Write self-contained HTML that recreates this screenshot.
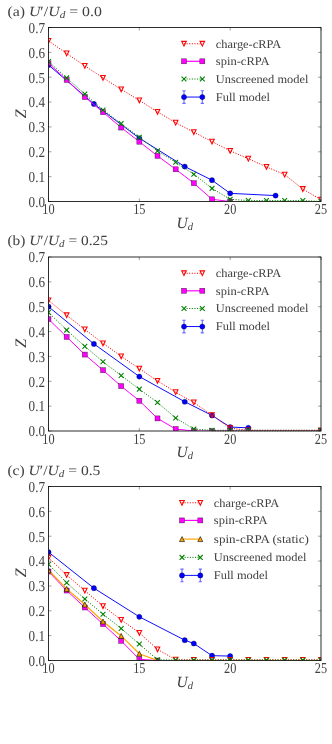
<!DOCTYPE html>
<html><head><meta charset="utf-8"><title>Z vs U_d</title>
<style>
html,body{margin:0;padding:0;background:#fff;}
svg{display:block;will-change:transform;}
text{font-family:"Liberation Serif",serif;fill:#404040;text-rendering:geometricPrecision;}
.tk{font-size:15.2px;}
.lg{font-size:11.8px;}
.ax{font-size:16px;font-style:italic;}
.tt{font-size:14px;}
</style></head><body>

<svg width="332" height="744" viewBox="0 0 332 744">
<rect width="332" height="744" fill="#fff"/>
<g transform="translate(0,27.50)">
<clipPath id="c0"><rect x="48.50" y="0" width="272.50" height="174.00"/></clipPath>
<text class="tt" x="7.4" y="-11.8" textLength="94.5" lengthAdjust="spacingAndGlyphs">(a) <tspan font-style="italic">U</tspan>′/<tspan font-style="italic">U</tspan><tspan font-style="italic" style="font-size:10px" dy="2.2">d</tspan><tspan dy="-2.2"> = 0.0</tspan></text>
<g clip-path="url(#c0)">
<polyline points="48.50,37.49 93.92,76.47 139.33,110.74 184.75,139.04 212.00,152.70 230.17,165.85 275.58,168.09" fill="none" stroke="#0000ff" stroke-width="0.95"/>
<circle cx="48.50" cy="37.49" r="2.60" fill="#0000ff" stroke="#000" stroke-opacity="0.6" stroke-width="0.5"/>
<circle cx="93.92" cy="76.47" r="2.60" fill="#0000ff" stroke="#000" stroke-opacity="0.6" stroke-width="0.5"/>
<circle cx="139.33" cy="110.74" r="2.60" fill="#0000ff" stroke="#000" stroke-opacity="0.6" stroke-width="0.5"/>
<circle cx="184.75" cy="139.04" r="2.60" fill="#0000ff" stroke="#000" stroke-opacity="0.6" stroke-width="0.5"/>
<circle cx="212.00" cy="152.70" r="2.60" fill="#0000ff" stroke="#000" stroke-opacity="0.6" stroke-width="0.5"/>
<circle cx="230.17" cy="165.85" r="2.60" fill="#0000ff" stroke="#000" stroke-opacity="0.6" stroke-width="0.5"/>
<circle cx="275.58" cy="168.09" r="2.60" fill="#0000ff" stroke="#000" stroke-opacity="0.6" stroke-width="0.5"/>
<polyline points="48.50,13.31 66.67,25.97 84.83,38.38 103.00,50.30 121.17,61.85 139.33,72.90 157.50,84.32 175.67,95.24 193.83,104.68 212.00,114.11 230.17,123.30 248.33,131.24 266.50,139.44 284.67,147.13 302.83,161.53 321.00,172.21" fill="none" stroke="#ff0000" stroke-width="1" stroke-dasharray="1.1 1.5"/>
<path d="M46.20 10.91 L50.80 10.91 L48.50 15.71 Z" fill="#fff" fill-opacity="0.0" stroke="#ff0000" stroke-width="1.05"/>
<path d="M64.37 23.57 L68.97 23.57 L66.67 28.37 Z" fill="#fff" fill-opacity="0.0" stroke="#ff0000" stroke-width="1.05"/>
<path d="M82.53 35.98 L87.13 35.98 L84.83 40.78 Z" fill="#fff" fill-opacity="0.0" stroke="#ff0000" stroke-width="1.05"/>
<path d="M100.70 47.90 L105.30 47.90 L103.00 52.70 Z" fill="#fff" fill-opacity="0.0" stroke="#ff0000" stroke-width="1.05"/>
<path d="M118.87 59.45 L123.47 59.45 L121.17 64.25 Z" fill="#fff" fill-opacity="0.0" stroke="#ff0000" stroke-width="1.05"/>
<path d="M137.03 70.50 L141.63 70.50 L139.33 75.30 Z" fill="#fff" fill-opacity="0.0" stroke="#ff0000" stroke-width="1.05"/>
<path d="M155.20 81.92 L159.80 81.92 L157.50 86.72 Z" fill="#fff" fill-opacity="0.0" stroke="#ff0000" stroke-width="1.05"/>
<path d="M173.37 92.84 L177.97 92.84 L175.67 97.64 Z" fill="#fff" fill-opacity="0.0" stroke="#ff0000" stroke-width="1.05"/>
<path d="M191.53 102.28 L196.13 102.28 L193.83 107.08 Z" fill="#fff" fill-opacity="0.0" stroke="#ff0000" stroke-width="1.05"/>
<path d="M209.70 111.71 L214.30 111.71 L212.00 116.51 Z" fill="#fff" fill-opacity="0.0" stroke="#ff0000" stroke-width="1.05"/>
<path d="M227.87 120.90 L232.47 120.90 L230.17 125.70 Z" fill="#fff" fill-opacity="0.0" stroke="#ff0000" stroke-width="1.05"/>
<path d="M246.03 128.84 L250.63 128.84 L248.33 133.64 Z" fill="#fff" fill-opacity="0.0" stroke="#ff0000" stroke-width="1.05"/>
<path d="M264.20 137.04 L268.80 137.04 L266.50 141.84 Z" fill="#fff" fill-opacity="0.0" stroke="#ff0000" stroke-width="1.05"/>
<path d="M282.37 144.73 L286.97 144.73 L284.67 149.53 Z" fill="#fff" fill-opacity="0.0" stroke="#ff0000" stroke-width="1.05"/>
<path d="M300.53 159.13 L305.13 159.13 L302.83 163.93 Z" fill="#fff" fill-opacity="0.0" stroke="#ff0000" stroke-width="1.05"/>
<path d="M318.70 169.81 L323.30 169.81 L321.00 174.61 Z" fill="#fff" fill-opacity="0.0" stroke="#ff0000" stroke-width="1.05"/>
<polyline points="48.50,35.75 66.67,52.39 84.83,69.52 103.00,84.67 121.17,100.06 139.33,114.21 157.50,128.36 175.67,141.77 193.83,155.68 212.00,171.81 230.17,174.00" fill="none" stroke="#ff00ff" stroke-width="1.0"/>
<rect x="46.00" y="33.25" width="5.00" height="5.00" fill="#ff00ff" stroke="#000" stroke-opacity="0.7" stroke-width="0.5"/>
<rect x="64.17" y="49.89" width="5.00" height="5.00" fill="#ff00ff" stroke="#000" stroke-opacity="0.7" stroke-width="0.5"/>
<rect x="82.33" y="67.02" width="5.00" height="5.00" fill="#ff00ff" stroke="#000" stroke-opacity="0.7" stroke-width="0.5"/>
<rect x="100.50" y="82.17" width="5.00" height="5.00" fill="#ff00ff" stroke="#000" stroke-opacity="0.7" stroke-width="0.5"/>
<rect x="118.67" y="97.56" width="5.00" height="5.00" fill="#ff00ff" stroke="#000" stroke-opacity="0.7" stroke-width="0.5"/>
<rect x="136.83" y="111.71" width="5.00" height="5.00" fill="#ff00ff" stroke="#000" stroke-opacity="0.7" stroke-width="0.5"/>
<rect x="155.00" y="125.86" width="5.00" height="5.00" fill="#ff00ff" stroke="#000" stroke-opacity="0.7" stroke-width="0.5"/>
<rect x="173.17" y="139.27" width="5.00" height="5.00" fill="#ff00ff" stroke="#000" stroke-opacity="0.7" stroke-width="0.5"/>
<rect x="191.33" y="153.18" width="5.00" height="5.00" fill="#ff00ff" stroke="#000" stroke-opacity="0.7" stroke-width="0.5"/>
<rect x="209.50" y="169.31" width="5.00" height="5.00" fill="#ff00ff" stroke="#000" stroke-opacity="0.7" stroke-width="0.5"/>
<rect x="227.67" y="171.50" width="5.00" height="5.00" fill="#ff00ff" stroke="#000" stroke-opacity="0.7" stroke-width="0.5"/>
<polyline points="48.50,34.02 66.67,50.40 84.83,66.54 103.00,82.43 121.17,96.09 139.33,109.74 157.50,123.40 175.67,134.82 193.83,146.74 212.00,160.89 230.17,171.81 248.33,173.06 266.50,173.06 284.67,173.06 302.83,173.06 321.00,174.00" fill="none" stroke="#008000" stroke-width="1" stroke-dasharray="1.1 1.5"/>
<path d="M46.10 31.62 L50.90 36.42 M46.10 36.42 L50.90 31.62" stroke="#008000" stroke-width="1.1" fill="none"/>
<path d="M64.27 48.00 L69.07 52.80 M64.27 52.80 L69.07 48.00" stroke="#008000" stroke-width="1.1" fill="none"/>
<path d="M82.43 64.14 L87.23 68.94 M82.43 68.94 L87.23 64.14" stroke="#008000" stroke-width="1.1" fill="none"/>
<path d="M100.60 80.03 L105.40 84.83 M100.60 84.83 L105.40 80.03" stroke="#008000" stroke-width="1.1" fill="none"/>
<path d="M118.77 93.69 L123.57 98.49 M118.77 98.49 L123.57 93.69" stroke="#008000" stroke-width="1.1" fill="none"/>
<path d="M136.93 107.34 L141.73 112.14 M136.93 112.14 L141.73 107.34" stroke="#008000" stroke-width="1.1" fill="none"/>
<path d="M155.10 121.00 L159.90 125.80 M155.10 125.80 L159.90 121.00" stroke="#008000" stroke-width="1.1" fill="none"/>
<path d="M173.27 132.42 L178.07 137.22 M173.27 137.22 L178.07 132.42" stroke="#008000" stroke-width="1.1" fill="none"/>
<path d="M191.43 144.34 L196.23 149.14 M191.43 149.14 L196.23 144.34" stroke="#008000" stroke-width="1.1" fill="none"/>
<path d="M209.60 158.49 L214.40 163.29 M209.60 163.29 L214.40 158.49" stroke="#008000" stroke-width="1.1" fill="none"/>
<path d="M227.77 169.41 L232.57 174.21 M227.77 174.21 L232.57 169.41" stroke="#008000" stroke-width="1.1" fill="none"/>
<path d="M245.93 170.66 L250.73 175.46 M245.93 175.46 L250.73 170.66" stroke="#008000" stroke-width="1.1" fill="none"/>
<path d="M264.10 170.66 L268.90 175.46 M264.10 175.46 L268.90 170.66" stroke="#008000" stroke-width="1.1" fill="none"/>
<path d="M282.27 170.66 L287.07 175.46 M282.27 175.46 L287.07 170.66" stroke="#008000" stroke-width="1.1" fill="none"/>
<path d="M300.43 170.66 L305.23 175.46 M300.43 175.46 L305.23 170.66" stroke="#008000" stroke-width="1.1" fill="none"/>
<path d="M318.60 171.60 L323.40 176.40 M318.60 176.40 L323.40 171.60" stroke="#008000" stroke-width="1.1" fill="none"/>
</g>
<rect x="48.50" y="0" width="272.50" height="174.00" fill="none" stroke="#1c1c1c" stroke-width="0.92"/>
<path d="M230.17 174.00 H321.00" stroke="#2a3a00" stroke-opacity="0.55" stroke-width="1" stroke-dasharray="1.1 1.5" fill="none"/>
<text class="tk" x="45.0" y="179.30" text-anchor="end" textLength="16.4" lengthAdjust="spacingAndGlyphs">0.0</text>
<text class="tk" x="45.0" y="154.44" text-anchor="end" textLength="16.4" lengthAdjust="spacingAndGlyphs">0.1</text>
<text class="tk" x="45.0" y="129.59" text-anchor="end" textLength="16.4" lengthAdjust="spacingAndGlyphs">0.2</text>
<text class="tk" x="45.0" y="104.73" text-anchor="end" textLength="16.4" lengthAdjust="spacingAndGlyphs">0.3</text>
<text class="tk" x="45.0" y="79.87" text-anchor="end" textLength="16.4" lengthAdjust="spacingAndGlyphs">0.4</text>
<text class="tk" x="45.0" y="55.01" text-anchor="end" textLength="16.4" lengthAdjust="spacingAndGlyphs">0.5</text>
<text class="tk" x="45.0" y="30.16" text-anchor="end" textLength="16.4" lengthAdjust="spacingAndGlyphs">0.6</text>
<text class="tk" x="45.0" y="5.30" text-anchor="end" textLength="16.4" lengthAdjust="spacingAndGlyphs">0.7</text>
<text class="tk" x="48.50" y="186.60" text-anchor="middle" textLength="12.3" lengthAdjust="spacingAndGlyphs">10</text>
<text class="tk" x="139.33" y="186.60" text-anchor="middle" textLength="12.3" lengthAdjust="spacingAndGlyphs">15</text>
<text class="tk" x="230.17" y="186.60" text-anchor="middle" textLength="12.3" lengthAdjust="spacingAndGlyphs">20</text>
<text class="tk" x="321.00" y="186.60" text-anchor="middle" textLength="12.3" lengthAdjust="spacingAndGlyphs">25</text>
<path d="M48.50 174.00 h3 M321.00 174.00 h-3 M48.50 149.14 h3 M321.00 149.14 h-3 M48.50 124.29 h3 M321.00 124.29 h-3 M48.50 99.43 h3 M321.00 99.43 h-3 M48.50 74.57 h3 M321.00 74.57 h-3 M48.50 49.71 h3 M321.00 49.71 h-3 M48.50 24.86 h3 M321.00 24.86 h-3 M48.50 0.00 h3 M321.00 0.00 h-3 M48.50 174.00 v-3 M48.50 0 v3 M139.33 174.00 v-3 M139.33 0 v3 M230.17 174.00 v-3 M230.17 0 v3 M321.00 174.00 v-3 M321.00 0 v3" stroke="#000" stroke-opacity="0.75" stroke-width="0.5" fill="none"/>
<text class="ax" transform="translate(25.5,86.40) rotate(-90)" text-anchor="middle">Z</text>
<text class="ax" x="176.6" y="200.00" font-size="15.5px" style="font-size:15.5px">U<tspan style="font-size:10.5px" dy="2">d</tspan></text>
<path d="M184.00 16.25 H202.30" stroke="#ff0000" stroke-width="1" stroke-dasharray="1.1 1.5"/>
<path d="M181.70 13.85 L186.30 13.85 L184.00 18.65 Z" fill="#fff" fill-opacity="0.0" stroke="#ff0000" stroke-width="1.05"/>
<path d="M200.00 13.85 L204.60 13.85 L202.30 18.65 Z" fill="#fff" fill-opacity="0.0" stroke="#ff0000" stroke-width="1.05"/>
<text class="lg" x="215.8" y="20.05" textLength="65.4" lengthAdjust="spacingAndGlyphs">charge-cRPA</text>
<path d="M184.00 33.80 H202.30" stroke="#ff00ff" stroke-width="1.2"/>
<rect x="181.50" y="31.30" width="5.00" height="5.00" fill="#ff00ff" stroke="#000" stroke-opacity="0.7" stroke-width="0.5"/>
<rect x="199.80" y="31.30" width="5.00" height="5.00" fill="#ff00ff" stroke="#000" stroke-opacity="0.7" stroke-width="0.5"/>
<text class="lg" x="215.8" y="37.60" textLength="53.8" lengthAdjust="spacingAndGlyphs">spin-cRPA</text>
<path d="M184.00 51.50 H202.30" stroke="#008000" stroke-width="1" stroke-dasharray="1.1 1.5"/>
<path d="M181.60 49.10 L186.40 53.90 M181.60 53.90 L186.40 49.10" stroke="#008000" stroke-width="1.1" fill="none"/>
<path d="M199.90 49.10 L204.70 53.90 M199.90 53.90 L204.70 49.10" stroke="#008000" stroke-width="1.1" fill="none"/>
<text class="lg" x="215.8" y="55.30" textLength="92.6" lengthAdjust="spacingAndGlyphs">Unscreened model</text>
<path d="M184.00 63.25 V75.85 M202.30 63.25 V75.85 M182.40 63.25 h3.2 M182.40 75.85 h3.2 M200.70 63.25 h3.2 M200.70 75.85 h3.2" stroke="#6a6aff" stroke-width="1.1" fill="none"/>
<path d="M184.00 69.55 H202.30" stroke="#0000ff" stroke-width="0.95"/>
<circle cx="184.00" cy="69.55" r="2.60" fill="#0000ff" stroke="#000" stroke-opacity="0.6" stroke-width="0.5"/>
<circle cx="202.30" cy="69.55" r="2.60" fill="#0000ff" stroke="#000" stroke-opacity="0.6" stroke-width="0.5"/>
<text class="lg" x="215.8" y="73.35" textLength="54.2" lengthAdjust="spacingAndGlyphs">Full model</text>
</g>
<g transform="translate(0,257.00)">
<clipPath id="c1"><rect x="48.50" y="0" width="272.50" height="174.00"/></clipPath>
<text class="tt" x="7.4" y="-11.8" textLength="100.5" lengthAdjust="spacingAndGlyphs">(b) <tspan font-style="italic">U</tspan>′/<tspan font-style="italic">U</tspan><tspan font-style="italic" style="font-size:10px" dy="2.2">d</tspan><tspan dy="-2.2"> = 0.25</tspan></text>
<g clip-path="url(#c1)">
<polyline points="48.50,49.66 93.92,86.90 139.33,119.55 184.75,144.75 212.00,158.41 230.17,170.08 248.33,170.82" fill="none" stroke="#0000ff" stroke-width="0.95"/>
<circle cx="48.50" cy="49.66" r="2.60" fill="#0000ff" stroke="#000" stroke-opacity="0.6" stroke-width="0.5"/>
<circle cx="93.92" cy="86.90" r="2.60" fill="#0000ff" stroke="#000" stroke-opacity="0.6" stroke-width="0.5"/>
<circle cx="139.33" cy="119.55" r="2.60" fill="#0000ff" stroke="#000" stroke-opacity="0.6" stroke-width="0.5"/>
<circle cx="184.75" cy="144.75" r="2.60" fill="#0000ff" stroke="#000" stroke-opacity="0.6" stroke-width="0.5"/>
<circle cx="212.00" cy="158.41" r="2.60" fill="#0000ff" stroke="#000" stroke-opacity="0.6" stroke-width="0.5"/>
<circle cx="230.17" cy="170.08" r="2.60" fill="#0000ff" stroke="#000" stroke-opacity="0.6" stroke-width="0.5"/>
<circle cx="248.33" cy="170.82" r="2.60" fill="#0000ff" stroke="#000" stroke-opacity="0.6" stroke-width="0.5"/>
<polyline points="48.50,43.35 66.67,58.25 84.83,72.40 103.00,86.30 121.17,99.31 139.33,111.63 157.50,123.92 175.67,135.22 193.83,145.47 212.00,158.18 230.17,171.22 248.33,173.30 321.00,173.30" fill="none" stroke="#ff0000" stroke-width="1" stroke-dasharray="1.1 1.5"/>
<path d="M46.20 40.95 L50.80 40.95 L48.50 45.75 Z" fill="#fff" fill-opacity="0.0" stroke="#ff0000" stroke-width="1.05"/>
<path d="M64.37 55.85 L68.97 55.85 L66.67 60.65 Z" fill="#fff" fill-opacity="0.0" stroke="#ff0000" stroke-width="1.05"/>
<path d="M82.53 70.00 L87.13 70.00 L84.83 74.80 Z" fill="#fff" fill-opacity="0.0" stroke="#ff0000" stroke-width="1.05"/>
<path d="M100.70 83.90 L105.30 83.90 L103.00 88.70 Z" fill="#fff" fill-opacity="0.0" stroke="#ff0000" stroke-width="1.05"/>
<path d="M118.87 96.91 L123.47 96.91 L121.17 101.71 Z" fill="#fff" fill-opacity="0.0" stroke="#ff0000" stroke-width="1.05"/>
<path d="M137.03 109.23 L141.63 109.23 L139.33 114.03 Z" fill="#fff" fill-opacity="0.0" stroke="#ff0000" stroke-width="1.05"/>
<path d="M155.20 121.52 L159.80 121.52 L157.50 126.32 Z" fill="#fff" fill-opacity="0.0" stroke="#ff0000" stroke-width="1.05"/>
<path d="M173.37 132.82 L177.97 132.82 L175.67 137.62 Z" fill="#fff" fill-opacity="0.0" stroke="#ff0000" stroke-width="1.05"/>
<path d="M191.53 143.07 L196.13 143.07 L193.83 147.87 Z" fill="#fff" fill-opacity="0.0" stroke="#ff0000" stroke-width="1.05"/>
<path d="M209.70 155.78 L214.30 155.78 L212.00 160.58 Z" fill="#fff" fill-opacity="0.0" stroke="#ff0000" stroke-width="1.05"/>
<path d="M227.87 168.82 L232.47 168.82 L230.17 173.62 Z" fill="#fff" fill-opacity="0.0" stroke="#ff0000" stroke-width="1.05"/>
<path d="M246.03 170.90 L250.63 170.90 L248.33 175.70 Z" fill="#fff" fill-opacity="0.0" stroke="#ff0000" stroke-width="1.05"/>
<path d="M318.70 170.90 L323.30 170.90 L321.00 175.70 Z" fill="#fff" fill-opacity="0.0" stroke="#ff0000" stroke-width="1.05"/>
<polyline points="48.50,62.07 66.67,79.95 84.83,97.58 103.00,113.22 121.17,129.11 139.33,143.76 157.50,161.39 175.67,172.06 193.83,174.00 212.00,174.00 230.17,174.00 248.33,174.00 321.00,174.00" fill="none" stroke="#ff00ff" stroke-width="1.0"/>
<rect x="46.00" y="59.57" width="5.00" height="5.00" fill="#ff00ff" stroke="#000" stroke-opacity="0.7" stroke-width="0.5"/>
<rect x="64.17" y="77.45" width="5.00" height="5.00" fill="#ff00ff" stroke="#000" stroke-opacity="0.7" stroke-width="0.5"/>
<rect x="82.33" y="95.08" width="5.00" height="5.00" fill="#ff00ff" stroke="#000" stroke-opacity="0.7" stroke-width="0.5"/>
<rect x="100.50" y="110.72" width="5.00" height="5.00" fill="#ff00ff" stroke="#000" stroke-opacity="0.7" stroke-width="0.5"/>
<rect x="118.67" y="126.61" width="5.00" height="5.00" fill="#ff00ff" stroke="#000" stroke-opacity="0.7" stroke-width="0.5"/>
<rect x="136.83" y="141.26" width="5.00" height="5.00" fill="#ff00ff" stroke="#000" stroke-opacity="0.7" stroke-width="0.5"/>
<rect x="155.00" y="158.89" width="5.00" height="5.00" fill="#ff00ff" stroke="#000" stroke-opacity="0.7" stroke-width="0.5"/>
<rect x="173.17" y="169.56" width="5.00" height="5.00" fill="#ff00ff" stroke="#000" stroke-opacity="0.7" stroke-width="0.5"/>
<rect x="191.33" y="171.50" width="5.00" height="5.00" fill="#ff00ff" stroke="#000" stroke-opacity="0.7" stroke-width="0.5"/>
<rect x="209.50" y="171.50" width="5.00" height="5.00" fill="#ff00ff" stroke="#000" stroke-opacity="0.7" stroke-width="0.5"/>
<rect x="227.67" y="171.50" width="5.00" height="5.00" fill="#ff00ff" stroke="#000" stroke-opacity="0.7" stroke-width="0.5"/>
<rect x="245.83" y="171.50" width="5.00" height="5.00" fill="#ff00ff" stroke="#000" stroke-opacity="0.7" stroke-width="0.5"/>
<rect x="318.50" y="171.50" width="5.00" height="5.00" fill="#ff00ff" stroke="#000" stroke-opacity="0.7" stroke-width="0.5"/>
<polyline points="48.50,55.37 66.67,73.10 84.83,89.38 103.00,104.78 121.17,118.53 139.33,132.16 157.50,145.50 175.67,160.99 193.83,172.06 212.00,173.30 230.17,173.30 248.33,173.30 321.00,173.30" fill="none" stroke="#008000" stroke-width="1" stroke-dasharray="1.1 1.5"/>
<path d="M46.10 52.97 L50.90 57.77 M46.10 57.77 L50.90 52.97" stroke="#008000" stroke-width="1.1" fill="none"/>
<path d="M64.27 70.70 L69.07 75.50 M64.27 75.50 L69.07 70.70" stroke="#008000" stroke-width="1.1" fill="none"/>
<path d="M82.43 86.98 L87.23 91.78 M82.43 91.78 L87.23 86.98" stroke="#008000" stroke-width="1.1" fill="none"/>
<path d="M100.60 102.38 L105.40 107.18 M100.60 107.18 L105.40 102.38" stroke="#008000" stroke-width="1.1" fill="none"/>
<path d="M118.77 116.13 L123.57 120.93 M118.77 120.93 L123.57 116.13" stroke="#008000" stroke-width="1.1" fill="none"/>
<path d="M136.93 129.76 L141.73 134.56 M136.93 134.56 L141.73 129.76" stroke="#008000" stroke-width="1.1" fill="none"/>
<path d="M155.10 143.10 L159.90 147.90 M155.10 147.90 L159.90 143.10" stroke="#008000" stroke-width="1.1" fill="none"/>
<path d="M173.27 158.59 L178.07 163.39 M173.27 163.39 L178.07 158.59" stroke="#008000" stroke-width="1.1" fill="none"/>
<path d="M191.43 169.66 L196.23 174.46 M191.43 174.46 L196.23 169.66" stroke="#008000" stroke-width="1.1" fill="none"/>
<path d="M209.60 170.90 L214.40 175.70 M209.60 175.70 L214.40 170.90" stroke="#008000" stroke-width="1.1" fill="none"/>
<path d="M227.77 170.90 L232.57 175.70 M227.77 175.70 L232.57 170.90" stroke="#008000" stroke-width="1.1" fill="none"/>
<path d="M245.93 170.90 L250.73 175.70 M245.93 175.70 L250.73 170.90" stroke="#008000" stroke-width="1.1" fill="none"/>
<path d="M318.60 170.90 L323.40 175.70 M318.60 175.70 L323.40 170.90" stroke="#008000" stroke-width="1.1" fill="none"/>
</g>
<rect x="48.50" y="0" width="272.50" height="174.00" fill="none" stroke="#1c1c1c" stroke-width="0.92"/>
<path d="M212.00 174.00 H321.00" stroke="#2a3a00" stroke-opacity="0.55" stroke-width="1" stroke-dasharray="1.1 1.5" fill="none"/>
<text class="tk" x="45.0" y="179.30" text-anchor="end" textLength="16.4" lengthAdjust="spacingAndGlyphs">0.0</text>
<text class="tk" x="45.0" y="154.44" text-anchor="end" textLength="16.4" lengthAdjust="spacingAndGlyphs">0.1</text>
<text class="tk" x="45.0" y="129.59" text-anchor="end" textLength="16.4" lengthAdjust="spacingAndGlyphs">0.2</text>
<text class="tk" x="45.0" y="104.73" text-anchor="end" textLength="16.4" lengthAdjust="spacingAndGlyphs">0.3</text>
<text class="tk" x="45.0" y="79.87" text-anchor="end" textLength="16.4" lengthAdjust="spacingAndGlyphs">0.4</text>
<text class="tk" x="45.0" y="55.01" text-anchor="end" textLength="16.4" lengthAdjust="spacingAndGlyphs">0.5</text>
<text class="tk" x="45.0" y="30.16" text-anchor="end" textLength="16.4" lengthAdjust="spacingAndGlyphs">0.6</text>
<text class="tk" x="45.0" y="5.30" text-anchor="end" textLength="16.4" lengthAdjust="spacingAndGlyphs">0.7</text>
<text class="tk" x="48.50" y="186.60" text-anchor="middle" textLength="12.3" lengthAdjust="spacingAndGlyphs">10</text>
<text class="tk" x="139.33" y="186.60" text-anchor="middle" textLength="12.3" lengthAdjust="spacingAndGlyphs">15</text>
<text class="tk" x="230.17" y="186.60" text-anchor="middle" textLength="12.3" lengthAdjust="spacingAndGlyphs">20</text>
<text class="tk" x="321.00" y="186.60" text-anchor="middle" textLength="12.3" lengthAdjust="spacingAndGlyphs">25</text>
<path d="M48.50 174.00 h3 M321.00 174.00 h-3 M48.50 149.14 h3 M321.00 149.14 h-3 M48.50 124.29 h3 M321.00 124.29 h-3 M48.50 99.43 h3 M321.00 99.43 h-3 M48.50 74.57 h3 M321.00 74.57 h-3 M48.50 49.71 h3 M321.00 49.71 h-3 M48.50 24.86 h3 M321.00 24.86 h-3 M48.50 0.00 h3 M321.00 0.00 h-3 M48.50 174.00 v-3 M48.50 0 v3 M139.33 174.00 v-3 M139.33 0 v3 M230.17 174.00 v-3 M230.17 0 v3 M321.00 174.00 v-3 M321.00 0 v3" stroke="#000" stroke-opacity="0.75" stroke-width="0.5" fill="none"/>
<text class="ax" transform="translate(25.5,86.40) rotate(-90)" text-anchor="middle">Z</text>
<text class="ax" x="176.6" y="200.00" font-size="15.5px" style="font-size:15.5px">U<tspan style="font-size:10.5px" dy="2">d</tspan></text>
<path d="M184.00 16.25 H202.30" stroke="#ff0000" stroke-width="1" stroke-dasharray="1.1 1.5"/>
<path d="M181.70 13.85 L186.30 13.85 L184.00 18.65 Z" fill="#fff" fill-opacity="0.0" stroke="#ff0000" stroke-width="1.05"/>
<path d="M200.00 13.85 L204.60 13.85 L202.30 18.65 Z" fill="#fff" fill-opacity="0.0" stroke="#ff0000" stroke-width="1.05"/>
<text class="lg" x="215.8" y="20.05" textLength="65.4" lengthAdjust="spacingAndGlyphs">charge-cRPA</text>
<path d="M184.00 33.80 H202.30" stroke="#ff00ff" stroke-width="1.2"/>
<rect x="181.50" y="31.30" width="5.00" height="5.00" fill="#ff00ff" stroke="#000" stroke-opacity="0.7" stroke-width="0.5"/>
<rect x="199.80" y="31.30" width="5.00" height="5.00" fill="#ff00ff" stroke="#000" stroke-opacity="0.7" stroke-width="0.5"/>
<text class="lg" x="215.8" y="37.60" textLength="53.8" lengthAdjust="spacingAndGlyphs">spin-cRPA</text>
<path d="M184.00 51.50 H202.30" stroke="#008000" stroke-width="1" stroke-dasharray="1.1 1.5"/>
<path d="M181.60 49.10 L186.40 53.90 M181.60 53.90 L186.40 49.10" stroke="#008000" stroke-width="1.1" fill="none"/>
<path d="M199.90 49.10 L204.70 53.90 M199.90 53.90 L204.70 49.10" stroke="#008000" stroke-width="1.1" fill="none"/>
<text class="lg" x="215.8" y="55.30" textLength="92.6" lengthAdjust="spacingAndGlyphs">Unscreened model</text>
<path d="M184.00 63.25 V75.85 M202.30 63.25 V75.85 M182.40 63.25 h3.2 M182.40 75.85 h3.2 M200.70 63.25 h3.2 M200.70 75.85 h3.2" stroke="#6a6aff" stroke-width="1.1" fill="none"/>
<path d="M184.00 69.55 H202.30" stroke="#0000ff" stroke-width="0.95"/>
<circle cx="184.00" cy="69.55" r="2.60" fill="#0000ff" stroke="#000" stroke-opacity="0.6" stroke-width="0.5"/>
<circle cx="202.30" cy="69.55" r="2.60" fill="#0000ff" stroke="#000" stroke-opacity="0.6" stroke-width="0.5"/>
<text class="lg" x="215.8" y="73.35" textLength="54.2" lengthAdjust="spacingAndGlyphs">Full model</text>
</g>
<g transform="translate(0,486.50)">
<clipPath id="c2"><rect x="48.50" y="0" width="272.50" height="174.00"/></clipPath>
<text class="tt" x="7.4" y="-11.8" textLength="93.0" lengthAdjust="spacingAndGlyphs">(c) <tspan font-style="italic">U</tspan>′/<tspan font-style="italic">U</tspan><tspan font-style="italic" style="font-size:10px" dy="2.2">d</tspan><tspan dy="-2.2"> = 0.5</tspan></text>
<g clip-path="url(#c2)">
<polyline points="48.50,65.65 93.92,101.65 139.33,130.30 184.75,153.66 193.83,157.02 212.00,169.18 230.17,169.55" fill="none" stroke="#0000ff" stroke-width="0.95"/>
<circle cx="48.50" cy="65.65" r="2.60" fill="#0000ff" stroke="#000" stroke-opacity="0.6" stroke-width="0.5"/>
<circle cx="93.92" cy="101.65" r="2.60" fill="#0000ff" stroke="#000" stroke-opacity="0.6" stroke-width="0.5"/>
<circle cx="139.33" cy="130.30" r="2.60" fill="#0000ff" stroke="#000" stroke-opacity="0.6" stroke-width="0.5"/>
<circle cx="184.75" cy="153.66" r="2.60" fill="#0000ff" stroke="#000" stroke-opacity="0.6" stroke-width="0.5"/>
<circle cx="193.83" cy="157.02" r="2.60" fill="#0000ff" stroke="#000" stroke-opacity="0.6" stroke-width="0.5"/>
<circle cx="212.00" cy="169.18" r="2.60" fill="#0000ff" stroke="#000" stroke-opacity="0.6" stroke-width="0.5"/>
<circle cx="230.17" cy="169.55" r="2.60" fill="#0000ff" stroke="#000" stroke-opacity="0.6" stroke-width="0.5"/>
<polyline points="48.50,71.26 66.67,88.51 84.83,104.13 103.00,119.55 121.17,133.40 139.33,146.34 157.50,162.88 175.67,173.20 193.83,173.30 212.00,173.30 230.17,173.30 248.33,173.30 266.50,173.30 284.67,173.30 302.83,173.30 321.00,173.30" fill="none" stroke="#ff0000" stroke-width="1" stroke-dasharray="1.1 1.5"/>
<path d="M46.20 68.86 L50.80 68.86 L48.50 73.66 Z" fill="#fff" fill-opacity="0.0" stroke="#ff0000" stroke-width="1.05"/>
<path d="M64.37 86.11 L68.97 86.11 L66.67 90.91 Z" fill="#fff" fill-opacity="0.0" stroke="#ff0000" stroke-width="1.05"/>
<path d="M82.53 101.73 L87.13 101.73 L84.83 106.53 Z" fill="#fff" fill-opacity="0.0" stroke="#ff0000" stroke-width="1.05"/>
<path d="M100.70 117.15 L105.30 117.15 L103.00 121.95 Z" fill="#fff" fill-opacity="0.0" stroke="#ff0000" stroke-width="1.05"/>
<path d="M118.87 131.00 L123.47 131.00 L121.17 135.80 Z" fill="#fff" fill-opacity="0.0" stroke="#ff0000" stroke-width="1.05"/>
<path d="M137.03 143.94 L141.63 143.94 L139.33 148.74 Z" fill="#fff" fill-opacity="0.0" stroke="#ff0000" stroke-width="1.05"/>
<path d="M155.20 160.48 L159.80 160.48 L157.50 165.28 Z" fill="#fff" fill-opacity="0.0" stroke="#ff0000" stroke-width="1.05"/>
<path d="M173.37 170.80 L177.97 170.80 L175.67 175.60 Z" fill="#fff" fill-opacity="0.0" stroke="#ff0000" stroke-width="1.05"/>
<path d="M191.53 170.90 L196.13 170.90 L193.83 175.70 Z" fill="#fff" fill-opacity="0.0" stroke="#ff0000" stroke-width="1.05"/>
<path d="M209.70 170.90 L214.30 170.90 L212.00 175.70 Z" fill="#fff" fill-opacity="0.0" stroke="#ff0000" stroke-width="1.05"/>
<path d="M227.87 170.90 L232.47 170.90 L230.17 175.70 Z" fill="#fff" fill-opacity="0.0" stroke="#ff0000" stroke-width="1.05"/>
<path d="M246.03 170.90 L250.63 170.90 L248.33 175.70 Z" fill="#fff" fill-opacity="0.0" stroke="#ff0000" stroke-width="1.05"/>
<path d="M264.20 170.90 L268.80 170.90 L266.50 175.70 Z" fill="#fff" fill-opacity="0.0" stroke="#ff0000" stroke-width="1.05"/>
<path d="M282.37 170.90 L286.97 170.90 L284.67 175.70 Z" fill="#fff" fill-opacity="0.0" stroke="#ff0000" stroke-width="1.05"/>
<path d="M300.53 170.90 L305.13 170.90 L302.83 175.70 Z" fill="#fff" fill-opacity="0.0" stroke="#ff0000" stroke-width="1.05"/>
<path d="M318.70 170.90 L323.30 170.90 L321.00 175.70 Z" fill="#fff" fill-opacity="0.0" stroke="#ff0000" stroke-width="1.05"/>
<polyline points="48.50,85.01 66.67,104.03 84.83,121.01 103.00,137.65 121.17,154.28 139.33,172.78 157.50,174.00" fill="none" stroke="#ff00ff" stroke-width="1.0"/>
<rect x="46.00" y="82.51" width="5.00" height="5.00" fill="#ff00ff" stroke="#000" stroke-opacity="0.7" stroke-width="0.5"/>
<rect x="64.17" y="101.53" width="5.00" height="5.00" fill="#ff00ff" stroke="#000" stroke-opacity="0.7" stroke-width="0.5"/>
<rect x="82.33" y="118.51" width="5.00" height="5.00" fill="#ff00ff" stroke="#000" stroke-opacity="0.7" stroke-width="0.5"/>
<rect x="100.50" y="135.15" width="5.00" height="5.00" fill="#ff00ff" stroke="#000" stroke-opacity="0.7" stroke-width="0.5"/>
<rect x="118.67" y="151.78" width="5.00" height="5.00" fill="#ff00ff" stroke="#000" stroke-opacity="0.7" stroke-width="0.5"/>
<rect x="136.83" y="170.28" width="5.00" height="5.00" fill="#ff00ff" stroke="#000" stroke-opacity="0.7" stroke-width="0.5"/>
<rect x="155.00" y="171.50" width="5.00" height="5.00" fill="#ff00ff" stroke="#000" stroke-opacity="0.7" stroke-width="0.5"/>
<polyline points="48.50,83.77 66.67,102.39 84.83,118.04 103.00,134.99 121.17,149.44 139.33,167.20 157.50,174.00" fill="none" stroke="#ffa500" stroke-width="1.2"/>
<path d="M46.00 86.27 L51.00 86.27 L48.50 81.27 Z" fill="#ffa500" stroke="#000" stroke-width="0.6"/>
<path d="M64.17 104.89 L69.17 104.89 L66.67 99.89 Z" fill="#ffa500" stroke="#000" stroke-width="0.6"/>
<path d="M82.33 120.54 L87.33 120.54 L84.83 115.54 Z" fill="#ffa500" stroke="#000" stroke-width="0.6"/>
<path d="M100.50 137.49 L105.50 137.49 L103.00 132.49 Z" fill="#ffa500" stroke="#000" stroke-width="0.6"/>
<path d="M118.67 151.94 L123.67 151.94 L121.17 146.94 Z" fill="#ffa500" stroke="#000" stroke-width="0.6"/>
<path d="M136.83 169.70 L141.83 169.70 L139.33 164.70 Z" fill="#ffa500" stroke="#000" stroke-width="0.6"/>
<path d="M155.00 176.50 L160.00 176.50 L157.50 171.50 Z" fill="#ffa500" stroke="#000" stroke-width="0.6"/>
<polyline points="48.50,77.81 66.67,96.19 84.83,112.45 103.00,127.72 121.17,141.92 139.33,157.56 157.50,173.28 175.67,173.55 193.83,173.55 212.00,173.55 230.17,173.55 248.33,173.55 266.50,173.55 284.67,173.55 302.83,173.55 321.00,173.55" fill="none" stroke="#008000" stroke-width="1" stroke-dasharray="1.1 1.5"/>
<path d="M46.10 75.41 L50.90 80.21 M46.10 80.21 L50.90 75.41" stroke="#008000" stroke-width="1.1" fill="none"/>
<path d="M64.27 93.79 L69.07 98.59 M64.27 98.59 L69.07 93.79" stroke="#008000" stroke-width="1.1" fill="none"/>
<path d="M82.43 110.05 L87.23 114.85 M82.43 114.85 L87.23 110.05" stroke="#008000" stroke-width="1.1" fill="none"/>
<path d="M100.60 125.32 L105.40 130.12 M100.60 130.12 L105.40 125.32" stroke="#008000" stroke-width="1.1" fill="none"/>
<path d="M118.77 139.52 L123.57 144.32 M118.77 144.32 L123.57 139.52" stroke="#008000" stroke-width="1.1" fill="none"/>
<path d="M136.93 155.16 L141.73 159.96 M136.93 159.96 L141.73 155.16" stroke="#008000" stroke-width="1.1" fill="none"/>
<path d="M155.10 170.88 L159.90 175.68 M155.10 175.68 L159.90 170.88" stroke="#008000" stroke-width="1.1" fill="none"/>
<path d="M173.27 171.15 L178.07 175.95 M173.27 175.95 L178.07 171.15" stroke="#008000" stroke-width="1.1" fill="none"/>
<path d="M191.43 171.15 L196.23 175.95 M191.43 175.95 L196.23 171.15" stroke="#008000" stroke-width="1.1" fill="none"/>
<path d="M209.60 171.15 L214.40 175.95 M209.60 175.95 L214.40 171.15" stroke="#008000" stroke-width="1.1" fill="none"/>
<path d="M227.77 171.15 L232.57 175.95 M227.77 175.95 L232.57 171.15" stroke="#008000" stroke-width="1.1" fill="none"/>
<path d="M245.93 171.15 L250.73 175.95 M245.93 175.95 L250.73 171.15" stroke="#008000" stroke-width="1.1" fill="none"/>
<path d="M264.10 171.15 L268.90 175.95 M264.10 175.95 L268.90 171.15" stroke="#008000" stroke-width="1.1" fill="none"/>
<path d="M282.27 171.15 L287.07 175.95 M282.27 175.95 L287.07 171.15" stroke="#008000" stroke-width="1.1" fill="none"/>
<path d="M300.43 171.15 L305.23 175.95 M300.43 175.95 L305.23 171.15" stroke="#008000" stroke-width="1.1" fill="none"/>
<path d="M318.60 171.15 L323.40 175.95 M318.60 175.95 L323.40 171.15" stroke="#008000" stroke-width="1.1" fill="none"/>
</g>
<rect x="48.50" y="0" width="272.50" height="174.00" fill="none" stroke="#1c1c1c" stroke-width="0.92"/>
<path d="M175.67 174.00 H321.00" stroke="#2a3a00" stroke-opacity="0.55" stroke-width="1" stroke-dasharray="1.1 1.5" fill="none"/>
<text class="tk" x="45.0" y="179.30" text-anchor="end" textLength="16.4" lengthAdjust="spacingAndGlyphs">0.0</text>
<text class="tk" x="45.0" y="154.44" text-anchor="end" textLength="16.4" lengthAdjust="spacingAndGlyphs">0.1</text>
<text class="tk" x="45.0" y="129.59" text-anchor="end" textLength="16.4" lengthAdjust="spacingAndGlyphs">0.2</text>
<text class="tk" x="45.0" y="104.73" text-anchor="end" textLength="16.4" lengthAdjust="spacingAndGlyphs">0.3</text>
<text class="tk" x="45.0" y="79.87" text-anchor="end" textLength="16.4" lengthAdjust="spacingAndGlyphs">0.4</text>
<text class="tk" x="45.0" y="55.01" text-anchor="end" textLength="16.4" lengthAdjust="spacingAndGlyphs">0.5</text>
<text class="tk" x="45.0" y="30.16" text-anchor="end" textLength="16.4" lengthAdjust="spacingAndGlyphs">0.6</text>
<text class="tk" x="45.0" y="5.30" text-anchor="end" textLength="16.4" lengthAdjust="spacingAndGlyphs">0.7</text>
<text class="tk" x="48.50" y="186.60" text-anchor="middle" textLength="12.3" lengthAdjust="spacingAndGlyphs">10</text>
<text class="tk" x="139.33" y="186.60" text-anchor="middle" textLength="12.3" lengthAdjust="spacingAndGlyphs">15</text>
<text class="tk" x="230.17" y="186.60" text-anchor="middle" textLength="12.3" lengthAdjust="spacingAndGlyphs">20</text>
<text class="tk" x="321.00" y="186.60" text-anchor="middle" textLength="12.3" lengthAdjust="spacingAndGlyphs">25</text>
<path d="M48.50 174.00 h3 M321.00 174.00 h-3 M48.50 149.14 h3 M321.00 149.14 h-3 M48.50 124.29 h3 M321.00 124.29 h-3 M48.50 99.43 h3 M321.00 99.43 h-3 M48.50 74.57 h3 M321.00 74.57 h-3 M48.50 49.71 h3 M321.00 49.71 h-3 M48.50 24.86 h3 M321.00 24.86 h-3 M48.50 0.00 h3 M321.00 0.00 h-3 M48.50 174.00 v-3 M48.50 0 v3 M139.33 174.00 v-3 M139.33 0 v3 M230.17 174.00 v-3 M230.17 0 v3 M321.00 174.00 v-3 M321.00 0 v3" stroke="#000" stroke-opacity="0.75" stroke-width="0.5" fill="none"/>
<text class="ax" transform="translate(25.5,86.40) rotate(-90)" text-anchor="middle">Z</text>
<text class="ax" x="176.6" y="200.00" font-size="15.5px" style="font-size:15.5px">U<tspan style="font-size:10.5px" dy="2">d</tspan></text>
<path d="M182.00 16.30 H200.30" stroke="#ff0000" stroke-width="1" stroke-dasharray="1.1 1.5"/>
<path d="M179.70 13.90 L184.30 13.90 L182.00 18.70 Z" fill="#fff" fill-opacity="0.0" stroke="#ff0000" stroke-width="1.05"/>
<path d="M198.00 13.90 L202.60 13.90 L200.30 18.70 Z" fill="#fff" fill-opacity="0.0" stroke="#ff0000" stroke-width="1.05"/>
<text class="lg" x="213.8" y="20.10" textLength="65.4" lengthAdjust="spacingAndGlyphs">charge-cRPA</text>
<path d="M182.00 33.90 H200.30" stroke="#ff00ff" stroke-width="1.2"/>
<rect x="179.50" y="31.40" width="5.00" height="5.00" fill="#ff00ff" stroke="#000" stroke-opacity="0.7" stroke-width="0.5"/>
<rect x="197.80" y="31.40" width="5.00" height="5.00" fill="#ff00ff" stroke="#000" stroke-opacity="0.7" stroke-width="0.5"/>
<text class="lg" x="213.8" y="37.70" textLength="53.8" lengthAdjust="spacingAndGlyphs">spin-cRPA</text>
<path d="M182.00 52.60 H200.30" stroke="#ffa500" stroke-width="1.2"/>
<path d="M179.50 55.10 L184.50 55.10 L182.00 50.10 Z" fill="#ffa500" stroke="#000" stroke-width="0.6"/>
<path d="M197.80 55.10 L202.80 55.10 L200.30 50.10 Z" fill="#ffa500" stroke="#000" stroke-width="0.6"/>
<text class="lg" x="213.8" y="56.40" textLength="95.0" lengthAdjust="spacingAndGlyphs">spin-cRPA (static)</text>
<path d="M182.00 70.90 H200.30" stroke="#008000" stroke-width="1" stroke-dasharray="1.1 1.5"/>
<path d="M179.60 68.50 L184.40 73.30 M179.60 73.30 L184.40 68.50" stroke="#008000" stroke-width="1.1" fill="none"/>
<path d="M197.90 68.50 L202.70 73.30 M197.90 73.30 L202.70 68.50" stroke="#008000" stroke-width="1.1" fill="none"/>
<text class="lg" x="213.8" y="74.70" textLength="92.6" lengthAdjust="spacingAndGlyphs">Unscreened model</text>
<path d="M182.00 82.60 V95.20 M200.30 82.60 V95.20 M180.40 82.60 h3.2 M180.40 95.20 h3.2 M198.70 82.60 h3.2 M198.70 95.20 h3.2" stroke="#6a6aff" stroke-width="1.1" fill="none"/>
<path d="M182.00 88.90 H200.30" stroke="#0000ff" stroke-width="0.95"/>
<circle cx="182.00" cy="88.90" r="2.60" fill="#0000ff" stroke="#000" stroke-opacity="0.6" stroke-width="0.5"/>
<circle cx="200.30" cy="88.90" r="2.60" fill="#0000ff" stroke="#000" stroke-opacity="0.6" stroke-width="0.5"/>
<text class="lg" x="213.8" y="92.70" textLength="54.2" lengthAdjust="spacingAndGlyphs">Full model</text>
</g>
</svg>
</body></html>
